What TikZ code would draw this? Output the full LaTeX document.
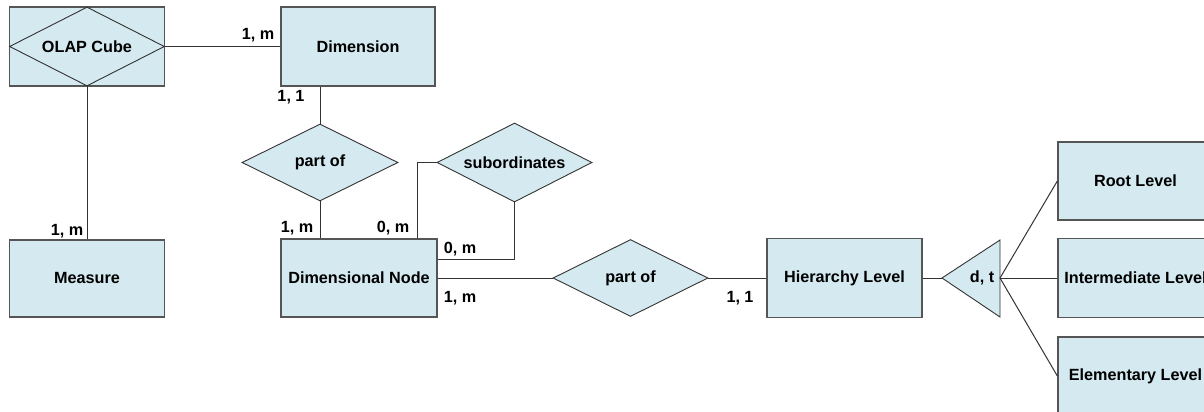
\documentclass[tikz,border=0pt]{standalone}
\usepackage{fontspec}
\setmainfont{Liberation Sans}
\usepackage{tikz}
\usetikzlibrary{shapes.geometric,positioning}
\definecolor{entfill}{HTML}{D4EAF0}
\definecolor{edge}{HTML}{555555}
\definecolor{wire}{HTML}{333333}
\tikzset{
  lbl/.style={font=\bfseries\fontsize{16.2}{19}\selectfont,text=black},
  entity/.style={lbl,draw=edge,fill=entfill,line width=1.3pt,rectangle,
    minimum width=155pt,minimum height=78pt,inner sep=0pt},
  relation/.style={lbl,draw=black!80,fill=entfill,line width=.9pt,diamond,aspect=2,
    minimum width=156pt,minimum height=77pt,inner sep=0pt},
  link/.style={draw=wire,line width=1pt},
  card/.style={lbl,inner sep=0pt},
}

\begin{document}
\begin{tikzpicture}[x=1pt,y=-1pt]
  \useasboundingbox (0,0) rectangle (1204,412);
  \clip (0,0) rectangle (1204,412);

  % aggregation: cube box with its diamond
  \node[entity,minimum height=79pt] (cube) at (87,46.5) {};
  \node[relation,minimum width=155pt,minimum height=79pt] (cubeD) at (cube.center) {OLAP Cube};
  \node[entity,minimum width=154pt,minimum height=79pt] (dim) at (358,46.5) {Dimension};
  \node[entity,minimum height=77pt] (measure) at (87,278.5) {Measure};

  \node[relation] (partA) at (320,162.5) {part of};
  \node[relation,minimum width=155pt,minimum height=79pt] (subord) at (514.5,162.5) {subordinates};
  \node[entity,minimum width=156pt] (dnode) at (359,278) {Dimensional Node};
  \node[relation,minimum width=155pt] (partB) at (630.5,278) {part of};
  \node[entity,minimum height=79pt] (hlevel) at (844.5,278) {Hierarchy Level};

  % specialisation triangle
  \coordinate (tip) at (942,278);
  \coordinate (base) at (1000,278);
  \filldraw[fill=entfill,draw=black!80,line width=.9pt] (tip) -- (1000,240) -- (1000,317) -- cycle;
  \node[card] (dt) at (982,278) {d, t};

  \node[entity] (root) at (1135.5,181) {Root Level};
  \node[entity,minimum height=79pt] (inter) at (1135.5,278) {Intermediate Level};
  \node[entity] (elem) at (1135.5,376) {Elementary Level};

  \draw[link] (cubeD.east) -- (dim.west);
  \draw[link] (cubeD.south) -- (measure.north);
  \draw[link] (partA.north) -- (partA.north |- dim.south);
  \draw[link] (partA.south) -- (partA.south |- dnode.north);
  \draw[link] ([xshift=-20pt]dnode.north east) |- (subord.west);
  \draw[link] (subord.south) |- ([yshift=19pt]dnode.east);
  \draw[link] (dnode.east) -- (partB.west);
  \draw[link] (partB.east) -- (hlevel.west);
  \draw[link] (hlevel.east) -- (tip);
  \draw[link] (base) -- (root.west);
  \draw[link] (base) -- (inter.west);
  \draw[link] (base) -- (elem.west);

  \node[card] (c1) at (258,35) {1, m};
  \node[card] (c2) at (291,97) {1, 1};
  \node[card] (c3) at (67,231) {1, m};
  \node[card] (c4) at (297,228) {1, m};
  \node[card] (c5) at (393,228) {0, m};
  \node[card] (c6) at (460,249) {0, m};
  \node[card] (c7) at (460,298) {1, m};
  \node[card] (c8) at (740,298) {1, 1};
\end{tikzpicture}
\end{document}
